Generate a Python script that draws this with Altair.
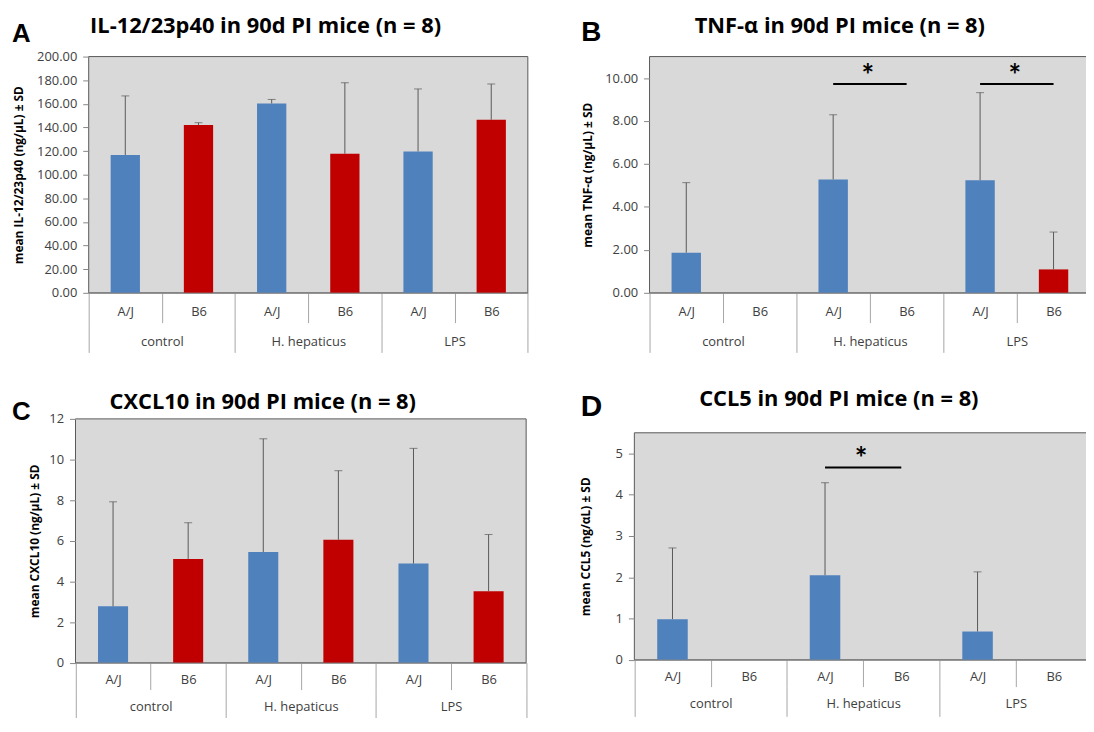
import altair as alt
import pandas as pd

# ---------------- data ----------------
groups = ["control", "H. hepaticus", "LPS"]
strains = ["A/J", "B6"]

il12_mean = [116.7, 142.1, 160.3, 117.7, 119.7, 146.5]
il12_sd = [50.0, 1.9, 3.4, 60.2, 52.9, 30.3]

tnf_mean = [1.87, 0.0, 5.28, 0.0, 5.24, 1.09]
tnf_sd = [3.26, 0.0, 3.01, 0.0, 4.08, 1.74]

cxcl10_mean = [2.78, 5.11, 5.45, 6.05, 4.88, 3.52]
cxcl10_sd = [5.14, 1.78, 5.57, 3.40, 5.67, 2.79]

ccl5_mean = [0.985, 0.0, 2.05, 0.0, 0.685, 0.0]
ccl5_sd = [1.725, 0.0, 2.24, 0.0, 1.445, 0.0]

# significance: group, line level, star level
tnf_sig = [("H. hepaticus", 9.72, 10.42), ("LPS", 9.72, 10.42)]
ccl5_sig = [("H. hepaticus", 4.66, 5.02)]

il12_ticks = [0, 20, 40, 60, 80, 100, 120, 140, 160, 180, 200]
tnf_ticks = [0, 2, 4, 6, 8, 10]
cxcl10_ticks = [0, 2, 4, 6, 8, 10, 12]
ccl5_ticks = [0, 1, 2, 3, 4, 5]

BLUE = "#4F81BD"
RED = "#C00000"
LABEL_COLOR = "#404040"
SEP_COLOR = "#A6A6A6"
AXIS_COLOR = "#868686"
ERR_COLOR = "#595959"
FONT = "Open Sans"
LFS = 13


def panel(letter, title, ytitle, means, sds, ydomain, yticks, yfmt, sig, g):
    cells = [f"{gr}|{s}" for gr in groups for s in strains]
    df = pd.DataFrame({
        "cell": cells,
        "group": [gr for gr in groups for s in strains],
        "strain": [s for gr in groups for s in strains],
        "mean": means,
        "sd": sds,
    })
    df["top"] = df["mean"] + df["sd"]
    W, H = g["W"], g["H"]
    x0, x1 = g["xr"]
    ytop = g["ytop"]
    row = g["row"]
    band = (x1 - x0) / len(cells)

    xs = alt.Scale(domain=cells, range=[x0, x1], paddingInner=0, paddingOuter=0)
    gs = alt.Scale(domain=groups, range=[x0, x1], paddingInner=0, paddingOuter=0)
    ys = alt.Scale(domain=ydomain, range=[H, ytop], nice=False, zero=True)
    yaxis = alt.Axis(
        values=yticks, format=yfmt, domain=False, grid=False, tickSize=6,
        tickColor=AXIS_COLOR, labelPadding=6, labelFont=FONT, labelFontSize=LFS,
        labelColor=LABEL_COLOR, labelOverlap=False, titleFont=FONT, titleFontSize=12,
        titleFontWeight="bold", titleColor="black", titleX=g["tX"],
        titleBaseline="middle", offset=g["yoff"], zindex=1)

    one = pd.DataFrame({"k": [0]})

    bg = alt.Chart(one).mark_rect(fill="#D9D9D9", stroke="#595959", strokeWidth=1).encode(
        x=alt.value(x0), x2=alt.value(x1), y=alt.value(ytop), y2=alt.value(H)
    )

    bars = alt.Chart(df).mark_bar(width=alt.RelativeBandSize(0.4)).encode(
        x=alt.X("cell:N", scale=xs, sort=cells, title=None, axis=alt.Axis(
            orient="bottom", labelExpr="split(datum.label, '|')[1]", tickBand="extent",
            tickSize=row, tickColor=SEP_COLOR, domainColor=AXIS_COLOR, labelBaseline="middle",
            labelPadding=g["lab"] - row, labelAngle=0, labelFont=FONT, labelFontSize=LFS,
            labelColor=LABEL_COLOR, labelOverlap=False, zindex=1)),
        y=alt.Y("mean:Q", scale=ys, title=ytitle, axis=yaxis),
        color=alt.Color("strain:N", scale=alt.Scale(domain=strains, range=[BLUE, RED]), legend=None),
    )

    edf = df[df["sd"] > 0]
    err = alt.Chart(edf).mark_rule(color=ERR_COLOR, strokeWidth=1).encode(
        x=alt.X("cell:N", scale=xs, axis=None, bandPosition=0.5),
        y=alt.Y("mean:Q", scale=ys, title=ytitle, axis=yaxis),
        y2="top:Q",
    )
    cap = alt.Chart(edf).mark_tick(color=ERR_COLOR, size=8, thickness=1).encode(
        x=alt.X("cell:N", scale=xs, axis=None),
        y=alt.Y("top:Q", scale=ys, title=ytitle, axis=yaxis),
    )

    gdf = pd.DataFrame({"group": groups})
    gax = alt.Chart(gdf).mark_point(opacity=0).encode(
        x=alt.X("group:N", scale=gs, sort=groups, title=None, axis=alt.Axis(
            orient="bottom", offset=row, domain=False, tickBand="extent", tickSize=30,
            tickColor=SEP_COLOR, labelBaseline="middle", labelPadding=g["lab"] - 30,
            labelAngle=0, labelFont=FONT, labelFontSize=LFS, labelColor=LABEL_COLOR,
            labelOverlap=False, zindex=1)),
    )

    layers = [bg, bars, err, cap, gax]

    if sig:
        sdf = pd.DataFrame({
            "c1": [f"{s[0]}|A/J" for s in sig],
            "c2": [f"{s[0]}|B6" for s in sig],
            "ly": [s[1] for s in sig],
            "sy": [s[2] for s in sig],
        })
        line = alt.Chart(sdf).mark_rule(color="black", strokeWidth=2).encode(
            x=alt.X("c1:N", scale=xs, axis=None, bandPosition=0.5),
            x2=alt.X2("c2", bandPosition=0.5),
            y=alt.Y("ly:Q", scale=ys, title=ytitle, axis=yaxis),
        )
        star = alt.Chart(sdf).mark_text(text="*", font="Lato", fontSize=30, fontWeight="bold",
                                        baseline="middle", dy=8, dx=band / 2 - 2,
                                        color="black").encode(
            x=alt.X("c1:N", scale=xs, axis=None),
            y=alt.Y("sy:Q", scale=ys, title=ytitle, axis=yaxis),
        )
        layers += [line, star]

    ttl = alt.Chart(one).mark_text(text=title, font=FONT, fontSize=22, fontWeight="bold",
                                   align="center", baseline="alphabetic", color="black").encode(
        x=alt.value(g["ttx"]), y=alt.value(g["tty"])
    )
    let = alt.Chart(one).mark_text(text=letter, font="Liberation Sans", fontSize=g["ls"],
                                   fontWeight="bold", align="left", baseline="alphabetic",
                                   color="black").encode(
        x=alt.value(g["lx"]), y=alt.value(g["ly"])
    )
    layers += [ttl, let]

    return alt.layer(*layers).resolve_scale(x="independent").properties(width=W, height=H)


# panel origins (page px): A (89.3, 54.3), B (654.3, 54.3), C (89.3, 419.3), D (654.3, 419.3)
gA = dict(W=442.4, H=238, xr=[0, 442.4], ytop=0, yoff=0, tX=-70.3, row=30, lab=19,
          ttx=178.2, tty=-23.8, lx=-77.3, ly=-14.3, ls=26)
gB = dict(W=444, H=238, xr=[0, 444], ytop=0, yoff=0, tX=-62.3, row=30, lab=19,
          ttx=191.7, tty=-23.8, lx=-68.9, ly=-16, ls=28)
gC = dict(W=440.7, H=245.7, xr=[-13.3, 440.7], ytop=0, yoff=13.3, tX=-41, row=27, lab=17,
          ttx=175.4, tty=-10, lx=-77.3, ly=0.7, ls=26)
gD = dict(W=445.7, H=242.7, xr=[-15.3, 445.7], ytop=14, yoff=15.3, tX=-49, row=27, lab=17,
          ttx=190.7, tty=-12.6, lx=-69.3, ly=-2.6, ls=30)

A = panel("A", "IL-12/23p40 in 90d PI mice (n = 8)", "mean IL-12/23p40 (ng/µL) ± SD",
          il12_mean, il12_sd, [0, 200], il12_ticks, ".2f", None, gA)
B = panel("B", "TNF-α in 90d PI mice (n = 8)", "mean TNF-α (ng/µL) ± SD",
          tnf_mean, tnf_sd, [0, 11], tnf_ticks, ".2f", tnf_sig, gB)
C = panel("C", "CXCL10 in 90d PI mice (n = 8)", "mean CXCL10 (ng/µL) ± SD",
          cxcl10_mean, cxcl10_sd, [0, 12], cxcl10_ticks, "d", None, gC)
D = panel("D", "CCL5 in 90d PI mice (n = 8)", "mean CCL5 (ng/αL) ± SD",
          ccl5_mean, ccl5_sd, [0, 5.5], ccl5_ticks, "d", ccl5_sig, gD)

chart = alt.concat(
    A, B, C, D, columns=2, bounds="flush", align="each",
    spacing={"row": 127, "column": 122},
).properties(
    autosize=alt.AutoSizeParams(type="none"),
    padding={"left": 81.3, "top": 46.3, "right": 1004.7, "bottom": 663.7},
).configure_view(strokeWidth=0)

chart.save("out.html", embed_options={"renderer": "svg", "actions": False})
